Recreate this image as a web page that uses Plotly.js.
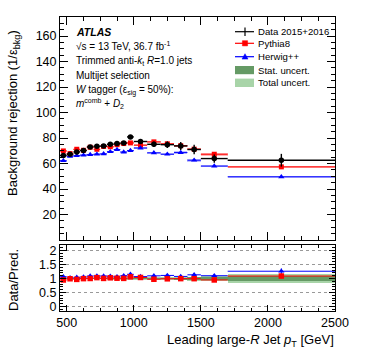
<!DOCTYPE html>
<html>
<head>
<meta charset="utf-8">
<script src="https://cdn.plot.ly/plotly-3.0.1.min.js"></script>
<style>
  html, body { margin: 0; padding: 0; background: #fff; }
  #chart { width: 374px; height: 359px; }
</style>
</head>
<body>
<div id="chart"></div>
<script>
// bins in leading large-R jet pT [GeV]
const binLo = [450, 500, 550, 600, 650, 700, 750, 800, 850, 900, 950, 1000, 1100, 1200, 1300, 1400, 1500, 1700];
const binHi = [500, 550, 600, 650, 700, 750, 800, 850, 900, 950, 1000, 1100, 1200, 1300, 1400, 1500, 1700, 2500];

// background rejection 1/eps_bkg
const dataRej   = [66.3, 67.3, 69.1, 70.2, 73.0, 73.6, 73.8, 75.1, 75.7, 76.2, 80.9, 77.3, 75.1, 74.8, 73.8, 71.0, 63.9, 62.6];
const dataErr   = [1.0, 1.0, 1.0, 1.0, 1.0, 1.0, 1.1, 1.1, 1.2, 1.3, 1.5, 1.8, 2.2, 2.6, 3.2, 3.8, 3.2, 5.0];
const pythiaRej = [69.9, 67.8, 71.2, 70.4, 72.8, 71.2, 73.4, 73.2, 74.8, 75.7, 76.2, 74.4, 77.0, 75.5, 74.0, 71.3, 67.3, 57.4];
const pythiaErr = [0.6, 0.6, 0.6, 0.6, 0.6, 0.6, 0.6, 0.7, 0.7, 0.7, 0.7, 0.6, 0.7, 0.8, 0.9, 1.0, 1.0, 1.0];
const herwigRej = [62.2, 65.6, 66.2, 66.6, 67.0, 67.3, 67.6, 69.3, 71.0, 69.0, 70.2, 72.2, 68.4, 67.3, 68.6, 62.6, 58.0, 49.6];
const herwigErr = [0.6, 0.6, 0.6, 0.6, 0.6, 0.6, 0.6, 0.7, 0.7, 0.7, 0.7, 0.6, 0.7, 0.8, 0.9, 1.0, 1.0, 0.8];

// relative uncertainty of the data (ratio panel bands)
const statUnc  = [0.010, 0.010, 0.010, 0.010, 0.012, 0.012, 0.013, 0.015, 0.015, 0.017, 0.020, 0.020, 0.025, 0.030, 0.035, 0.045, 0.050, 0.100];
const totalUnc = [0.025, 0.025, 0.025, 0.025, 0.030, 0.030, 0.030, 0.035, 0.040, 0.045, 0.050, 0.050, 0.055, 0.060, 0.065, 0.070, 0.080, 0.150];

const centers = binLo.map((lo, i) => (lo + binHi[i]) / 2);
const halfW = binLo.map((lo, i) => (binHi[i] - lo) / 2);
const widths = halfW.map(h => 2 * h);

const ratioPythia = dataRej.map((d, i) => d / pythiaRej[i]);
const ratioHerwig = dataRej.map((d, i) => d / herwigRej[i]);

const FONT = 'Liberation Sans, Arial, Helvetica, sans-serif';
const STAT_COL = '#659a65';
const TOTAL_COL = '#a8d4a8';

function band(x, mid, err, color, xa, ya) {
    return {
        type: 'bar', x: x, base: mid.map((m, i) => m - err[i]), y: err.map(e => 2 * e),
        width: widths, marker: { color: color, line: { width: 0 } },
        xaxis: xa, yaxis: ya, showlegend: false, hoverinfo: 'skip'
    };
}

function points(y, yerr, color, symbol, size, xa, ya, thick) {
    return {
        type: 'scatter', mode: 'markers', x: centers, y: y,
        marker: { color: color, symbol: symbol, size: size },
        error_x: { type: 'data', array: halfW, color: color, thickness: thick, width: 0 },
        error_y: yerr ? { type: 'data', array: yerr, color: color, thickness: thick, width: 0 } : { visible: false },
        xaxis: xa, yaxis: ya, showlegend: false, hoverinfo: 'skip', cliponaxis: true
    };
}

const traces = [
    // top panel
    band(centers, pythiaRej, pythiaErr, 'rgba(255,0,0,0.30)', 'x', 'y'),
    band(centers, herwigRej, herwigErr, 'rgba(0,0,255,0.25)', 'x', 'y'),
    points(pythiaRej, null, '#ff0000', 'square', 5, 'x', 'y', 1),
    points(herwigRej, null, '#0000ff', 'triangle-up', 5.5, 'x', 'y', 1),
    points(dataRej, dataErr, '#000000', 'circle', 5.5, 'x', 'y', 1.4),
    // ratio panel
    band(centers, centers.map(() => 1), totalUnc, TOTAL_COL, 'x2', 'y2'),
    band(centers, centers.map(() => 1), statUnc, STAT_COL, 'x2', 'y2'),
    points(ratioHerwig, dataErr.map((e, i) => e / herwigRej[i]), '#0000ff', 'triangle-up', 5.5, 'x2', 'y2', 1),
    points(ratioPythia, dataErr.map((e, i) => e / pythiaRej[i]), '#ff0000', 'square', 5.5, 'x2', 'y2', 1)
];

// pixel -> paper helpers (plot area spans x 60..335, y 17..311)
const px = v => (v - 60) / 275;
const py = v => (311 - v) / 294;

function note(text, x, y, size, extra) {
    return Object.assign({
        text: text, xref: 'paper', yref: 'paper', x: px(x), y: py(y),
        xanchor: 'left', yanchor: 'middle', showarrow: false,
        font: { family: FONT, size: size || 10, color: '#000' }
    }, extra || {});
}

const annotations = [
    note('<b><i>ATLAS</i></b>', 74, 32.3, 10.5),
    note('√s = 13 TeV, 36.7 fb<sup>-1</sup>', 74, 45.7),
    note('Trimmed anti-<i>k</i><sub>t</sub> <i>R</i>=1.0 jets', 74, 61),
    note('Multijet selection', 74, 75.3),
    note('<i>W</i> tagger (ε<sub>sig</sub> = 50%):', 74, 90),
    note('<i>m</i><sup>comb</sup> + <i>D</i><sub>2</sub>', 74, 103.3),
    // legend labels
    note('Data 2015+2016', 256, 31.7, 9.6),
    note('Pythia8', 256, 43.3, 9.6),
    note('Herwig++', 256, 56.7, 9.6),
    note('Stat. uncert.', 256, 70, 9.6),
    note('Total uncert.', 256, 82.7, 9.6),
    // axis titles
    note('Background rejection (1/ε<sub>bkg</sub>)', 13, 113, 13, { xanchor: 'center', textangle: -90 }),
    note('Data/Pred.', 13, 280, 13, { xanchor: 'center', textangle: -90 }),
    note('Leading large-<i>R</i> Jet <i>p</i><sub>T</sub> [GeV]', 336, 340, 13, { xanchor: 'right' })
];

// legend glyphs
function legLine(y, color) {
    return { type: 'line', xref: 'paper', yref: 'paper', x0: px(235), x1: px(254), y0: py(y), y1: py(y),
             line: { color: color, width: 1.2 } };
}
function legBox(y0, y1, color) {
    return { type: 'rect', xref: 'paper', yref: 'paper', x0: px(235), x1: px(254), y0: py(y0), y1: py(y1),
             fillcolor: color, line: { width: 0 } };
}
function legPath(y, path, color) {
    return { type: 'path', xref: 'paper', yref: 'paper', xsizemode: 'pixel', ysizemode: 'pixel',
             xanchor: px(245), yanchor: py(y), path: path, fillcolor: color, line: { color: color, width: 0.5 } };
}
const shapes = [
    legLine(31.7, '#000'),
    { type: 'line', xref: 'paper', yref: 'paper', x0: px(245), x1: px(245), y0: py(27.5), y1: py(36), line: { color: '#000', width: 1.2 } },
    legPath(31.7, 'M-2.7,0 A2.7,2.7 0 1,0 2.7,0 A2.7,2.7 0 1,0 -2.7,0 Z', '#000'),
    legLine(43.3, '#ff0000'),
    legPath(43.3, 'M-2.6,-2.6 L2.6,-2.6 L2.6,2.6 L-2.6,2.6 Z', '#ff0000'),
    legLine(56.7, '#0000ff'),
    legPath(56.7, 'M-3,-2.4 L3,-2.4 L0,3 Z', '#0000ff'),
    legBox(66, 74.2, STAT_COL),
    legBox(78.6, 87, TOTAL_COL)
];

const axisBase = {
    showline: true, linecolor: '#000', linewidth: 1, mirror: 'allticks',
    ticks: 'inside', tickcolor: '#000', showgrid: false, zeroline: false,
    tickfont: { family: FONT, size: 12.5, color: '#000' }
};

const layout = {
    width: 374, height: 359,
    margin: { l: 60, r: 39, t: 17, b: 48 },
    paper_bgcolor: '#fff', plot_bgcolor: '#fff',
    showlegend: false, barmode: 'overlay', bargap: 0,
    font: { family: FONT, color: '#000' },
    xaxis: Object.assign({}, axisBase, {
        domain: [0, 1], anchor: 'y', range: [450, 2500], tick0: 0, dtick: 500, ticklen: 8,
        showticklabels: false,
        minor: { ticks: 'inside', ticklen: 4, tick0: 0, dtick: 125, tickcolor: '#000' }
    }),
    yaxis: Object.assign({}, axisBase, {
        domain: [0.2415, 1], anchor: 'x', range: [0, 175],
        tickvals: [20, 40, 60, 80, 100, 120, 140, 160], ticklen: 8,
        minor: { ticks: 'inside', ticklen: 4, tick0: 0, dtick: 5, tickcolor: '#000' }
    }),
    xaxis2: Object.assign({}, axisBase, {
        domain: [0, 1], anchor: 'y2', range: [450, 2500], tick0: 0, dtick: 500, ticklen: 6,
        minor: { ticks: 'inside', ticklen: 3, tick0: 0, dtick: 125, tickcolor: '#000' }
    }),
    yaxis2: Object.assign({}, axisBase, {
        domain: [0, 0.2245], anchor: 'x2', range: [-0.16, 2.2],
        tickvals: [0, 0.5, 1, 1.5, 2], ticktext: ['0', '0.5', '1', '1.5', '2'], ticklen: 6,
        showgrid: true, gridcolor: '#999', griddash: 'dot', gridwidth: 1,
        minor: { ticks: 'inside', ticklen: 3, tick0: 0, dtick: 0.1, tickcolor: '#000' }
    }),
    annotations: annotations,
    shapes: shapes
};

Plotly.newPlot('chart', traces, layout, { staticPlot: true, displayModeBar: false });
</script>
</body>
</html>
